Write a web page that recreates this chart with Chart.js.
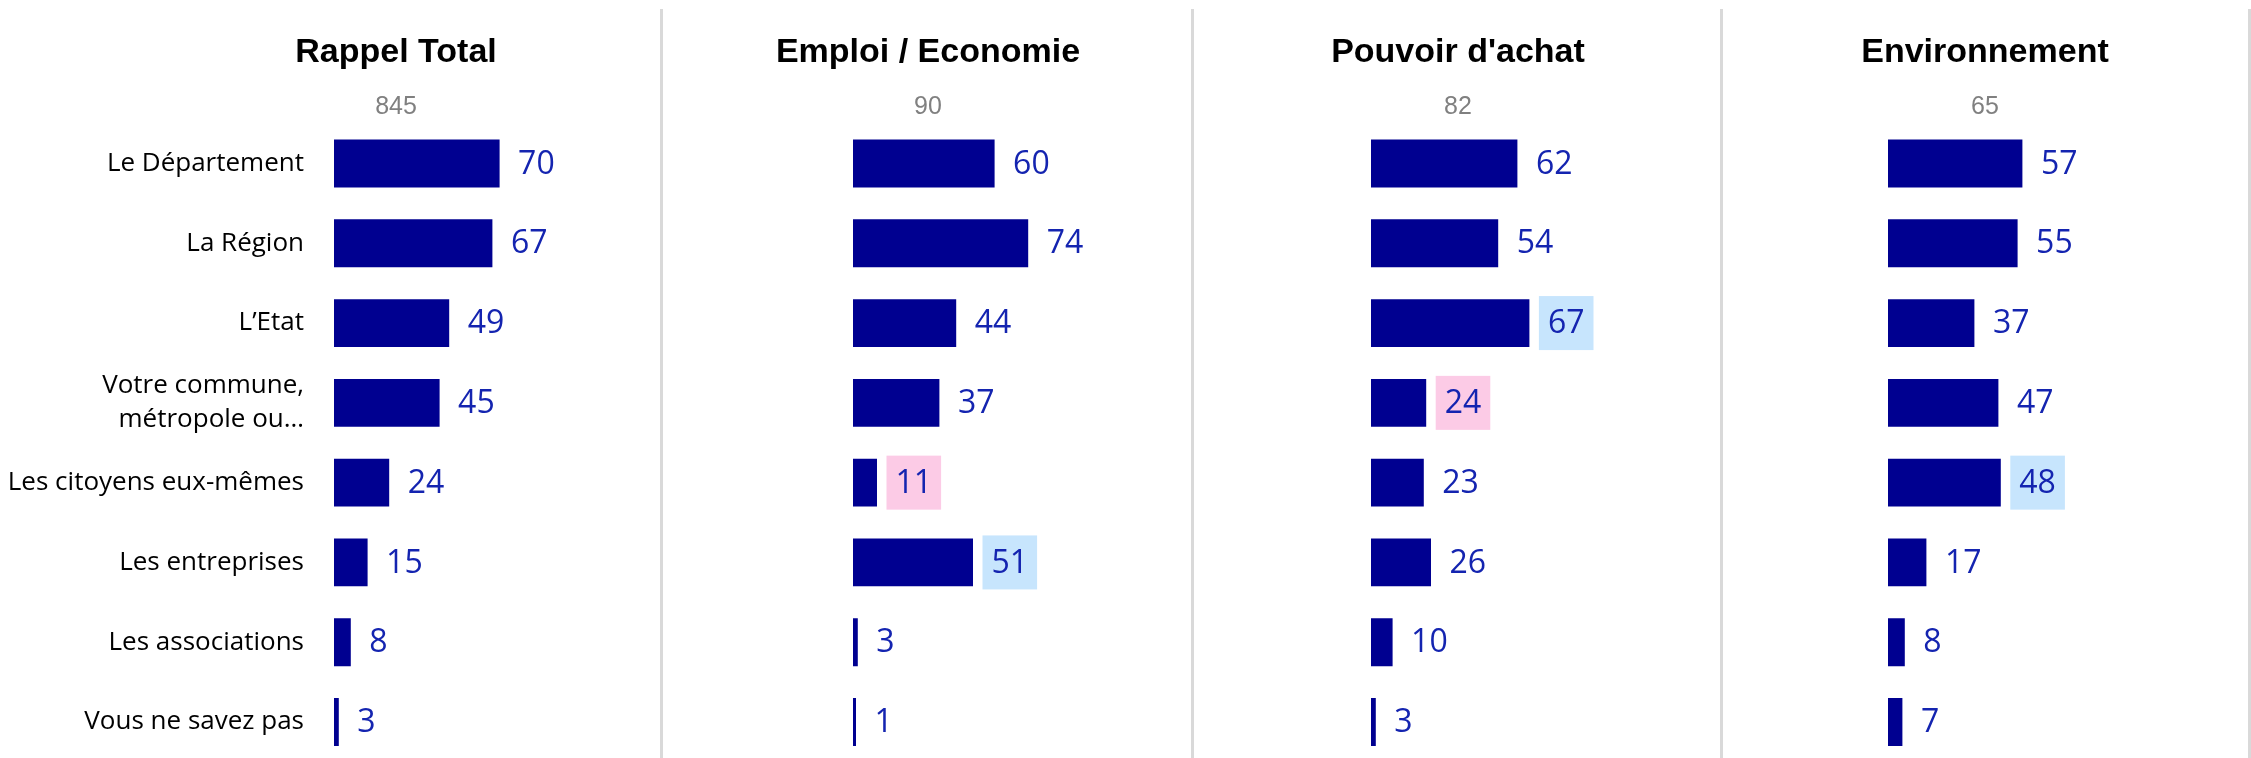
<!DOCTYPE html>
<html><head><meta charset="utf-8">
<script src="https://cdn.jsdelivr.net/npm/chart.js@4.4.0/dist/chart.umd.min.js"></script>
<style>
html,body{margin:0;padding:0;background:#fff;overflow:hidden;width:2251px;height:758px;}
#wrap{position:relative;width:2251px;height:758px;overflow:hidden;}
canvas{position:absolute;top:0;}
.sep{position:absolute;top:9px;height:760px;width:3px;background:#d9d9d9;}
</style></head><body>
<div id="wrap">
  <div class="sep" style="left:660px"></div>
  <div class="sep" style="left:1191px"></div>
  <div class="sep" style="left:1720px"></div>
  <div class="sep" style="left:2248px"></div>
</div>
<script>
// ---- data ----
const categories = ['Le Département', 'La Région', 'L’Etat', ['Votre commune,', 'métropole ou…'],
  'Les citoyens eux-mêmes', 'Les entreprises', 'Les associations', 'Vous ne savez pas'];
const panelTitles = ['Rappel Total', 'Emploi / Economie', "Pouvoir d'achat", 'Environnement'];
const baseSizes = ['845', '90', '82', '65'];
const rappelTotal    = [70, 67, 49, 45, 24, 15, 8, 3];
const emploiEconomie = [60, 74, 44, 37, 11, 51, 3, 1];
const pouvoirAchat   = [62, 54, 67, 24, 23, 26, 10, 3];
const environnement  = [57, 55, 37, 47, 48, 17, 8, 7];
// significance marks: 'high' (blue box), 'low' (pink box)
const marksRappel = [null, null, null, null, null, null, null, null];
const marksEmploi = [null, null, null, null, 'low', 'high', null, null];
const marksPouvoir = [null, null, 'high', 'low', null, null, null, null];
const marksEnvironnement = [null, null, null, null, 'high', null, null, null];

const seriesList = [rappelTotal, emploiEconomie, pouvoirAchat, environnement];
const marksList = [marksRappel, marksEmploi, marksPouvoir, marksEnvironnement];

// ---- layout ----
const H = 820;
const AREA_TOP = 123.6, AREA_BOTTOM = 761.9;
const layouts = [
  {left: 0,    width: 660, barLeft: 334,  titleX: 396},
  {left: 663,  width: 528, barLeft: 853,  titleX: 928},
  {left: 1194, width: 526, barLeft: 1371, titleX: 1458},
  {left: 1723, width: 525, barLeft: 1888, titleX: 1985}
];
const PLOT_W = 240, X_MIN = 1, X_MAX = 101;

const valueLabels = {
  id: 'valueLabels',
  afterDatasetsDraw(chart, args, opts) {
    const ctx = chart.ctx;
    const meta = chart.getDatasetMeta(0);
    const data = chart.data.datasets[0].data;
    const marks = opts.marks || [];
    ctx.save();
    ctx.font = '32px "Open Sans"';
    ctx.textBaseline = 'middle';
    ctx.textAlign = 'left';
    meta.data.forEach((bar, i) => {
      const txt = String(data[i]);
      const w = ctx.measureText(txt).width;
      const m = marks[i];
      if (m) {
        ctx.fillStyle = m === 'high' ? '#c7e5fd' : '#fccbe6';
        ctx.fillRect(bar.x + 9.5, bar.y - 27, w + 18, 54);
      }
      ctx.fillStyle = '#1424b0';
      ctx.fillText(txt, bar.x + 18.5, bar.y + 1);
    });
    ctx.restore();
  }
};

const header = {
  id: 'header',
  afterDraw(chart, args, o) {
    const ctx = chart.ctx;
    ctx.save();
    ctx.textAlign = 'center';
    ctx.textBaseline = 'alphabetic';
    ctx.fillStyle = '#000';
    ctx.font = 'bold 34px "Liberation Sans"';
    ctx.fillText(o.title, o.x, 62);
    ctx.fillStyle = '#808080';
    ctx.font = '25px "Liberation Sans"';
    ctx.fillText(o.base, o.x, 114);
    ctx.restore();
  }
};

const wrap = document.getElementById('wrap');
layouts.forEach((L, i) => {
  const c = document.createElement('canvas');
  c.width = L.width; c.height = H;
  c.style.left = L.left + 'px';
  c.style.width = L.width + 'px';
  c.style.height = H + 'px';
  wrap.appendChild(c);
  const padLeft = i === 0 ? 0 : L.barLeft - L.left;
  const padRight = L.width - (L.barLeft - L.left) - PLOT_W;
  const yScale = {
    display: i === 0,
    grid: {display: false, drawTicks: false},
    border: {display: false},
    ticks: {padding: 30, color: '#000', font: {family: '"Open Sans"', size: 26, lineHeight: 1.3}}
  };
  if (i === 0) yScale.afterFit = (s) => { s.width = L.barLeft; };
  new Chart(c, {
    type: 'bar',
    data: {
      labels: categories,
      datasets: [{
        data: seriesList[i],
        backgroundColor: '#000090',
        borderWidth: 0,
        barPercentage: 0.6,
        categoryPercentage: 1,
        minBarLength: 3
      }]
    },
    plugins: [valueLabels, header],
    options: {
      responsive: false,
      animation: false,
      devicePixelRatio: 1,
      indexAxis: 'y',
      layout: {padding: {left: padLeft, right: padRight, top: AREA_TOP, bottom: H - AREA_BOTTOM}},
      plugins: {
        legend: {display: false},
        tooltip: {enabled: false},
        valueLabels: {marks: marksList[i]},
        header: {title: panelTitles[i], base: baseSizes[i], x: L.titleX - L.left}
      },
      scales: {
        x: {display: false, min: X_MIN, max: X_MAX, beginAtZero: false},
        y: yScale
      }
    }
  });
});
</script>
</body></html>
